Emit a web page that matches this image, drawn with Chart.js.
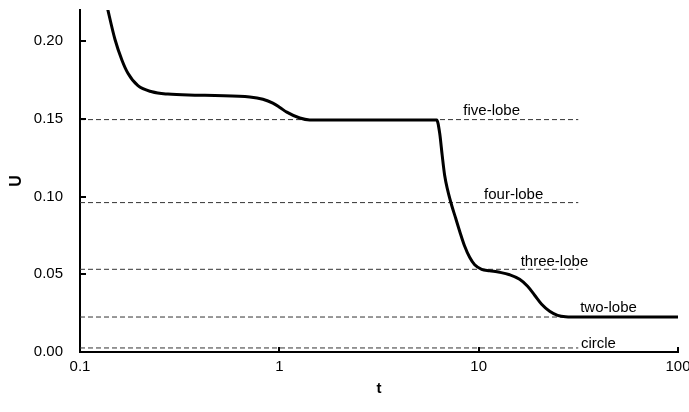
<!DOCTYPE html>
<html><head><meta charset="utf-8">
<script src="https://cdn.jsdelivr.net/npm/chart.js@4"></script>
<style>html,body{margin:0;padding:0;background:#fff}</style>
</head><body>
<canvas id="c" width="689" height="412"></canvas>
<script>
// ---- data ----
const curveT = [0.136, 0.1497, 0.1624, 0.174, 0.1953, 0.2296, 0.276, 0.377, 0.475, 0.711, 0.827, 0.928, 1.006, 1.09, 1.267, 1.42, 1.8, 6.16,
  6.375, 6.56, 6.75, 6.99, 7.32, 7.67, 8.03, 8.51, 9.01, 9.55, 10.35, 11.35, 12.74, 14.30, 16.05, 17.60, 19.09, 20.70, 22.70, 24.89, 27.29, 32.08, 100];
const curveU = [0.2235, 0.2012, 0.1877, 0.1793, 0.1713, 0.1674, 0.1659, 0.1652, 0.1650, 0.1641, 0.1626, 0.1601, 0.1573, 0.1543, 0.1505, 0.1493, 0.1492, 0.1492,
  0.1407, 0.1266, 0.1137, 0.1041, 0.0944, 0.0860, 0.0777, 0.0680, 0.0609, 0.0561, 0.0532, 0.0523, 0.0513, 0.0497, 0.0468, 0.0423, 0.0365, 0.0307, 0.0262, 0.0236, 0.0227, 0.0225, 0.0225];
const levelNames = ['five-lobe', 'four-lobe', 'three-lobe', 'two-lobe', 'circle'];
const levelU = [0.1495, 0.0961, 0.0532, 0.0225, 0.0026];
const levelRangeT = [0.1, 31.6];
const labelT = [11.62, 14.98, 24.0, 44.8, 39.9];
const labelU = [0.1551, 0.1008, 0.0577, 0.0284, 0.0053];
const xTicks = [0.1, 1, 10, 100];
const yTicks = [0, 0.05, 0.10, 0.15, 0.20];
const xTitle = 't', yTitle = 'U';

// ---- chart ----
const FONT = '"Liberation Sans", Arial, Helvetica, sans-serif';
const datasets = [{
  data: curveT.map((t, i) => ({x: t, y: curveU[i]})),
  borderColor: '#000', borderWidth: 3, pointRadius: 0,
  cubicInterpolationMode: 'monotone', fill: false
}];
levelU.forEach(u => datasets.push({
  data: levelRangeT.map(t => ({x: t, y: u})),
  borderColor: '#333', borderWidth: 1, borderDash: [5, 3], pointRadius: 0, fill: false
}));

const decor = {
  id: 'decor',
  afterDatasetsDraw(chart) {
    const {ctx, scales: {x, y}} = chart;
    ctx.save();
    ctx.fillStyle = '#000';
    ctx.font = '15px ' + FONT;
    ctx.textAlign = 'center';
    ctx.textBaseline = 'middle';
    levelNames.forEach((n, i) => ctx.fillText(n, x.getPixelForValue(labelT[i]), y.getPixelForValue(labelU[i])));
    ctx.restore();
  },
  afterDraw(chart) {
    const {ctx, chartArea, scales: {x, y}} = chart;
    ctx.save();
    ctx.strokeStyle = '#000';
    ctx.lineWidth = 2;
    ctx.beginPath();
    xTicks.forEach(v => {
      if (v === xTicks[0]) return;
      const px = Math.round(x.getPixelForValue(v));
      ctx.moveTo(px, chartArea.bottom); ctx.lineTo(px, chartArea.bottom - 5);
    });
    yTicks.forEach(v => {
      if (v === yTicks[0]) return;
      const py = Math.round(y.getPixelForValue(v));
      ctx.moveTo(chartArea.left, py); ctx.lineTo(chartArea.left + 6, py);
    });
    ctx.stroke();
    ctx.restore();
  }
};

new Chart(document.getElementById('c'), {
  type: 'line',
  data: {datasets},
  options: {
    responsive: false, devicePixelRatio: 1, animation: false,
    layout: {padding: {top: 10, right: 11, left: 0, bottom: 0}},
    plugins: {legend: {display: false}, tooltip: {enabled: false}},
    scales: {
      x: {
        type: 'logarithmic', min: 0.1, max: 100,
        grid: {display: false, drawTicks: false},
        border: {display: true, color: '#000', width: 2},
        afterBuildTicks: s => { s.ticks = xTicks.map(v => ({value: v})); },
        afterFit: s => { s.height = 60; s.paddingLeft = 0; s.paddingRight = 0; },
        ticks: {color: '#000', font: {family: FONT, size: 15}, padding: 6, maxRotation: 0, autoSkip: false,
          callback: v => String(v)},
        title: {display: true, text: xTitle, color: '#000', font: {family: FONT, size: 15, weight: 'bold'}, padding: {top: 0, bottom: 14}}
      },
      y: {
        type: 'linear', min: 0, max: 0.22,
        grid: {display: false, drawTicks: false},
        border: {display: true, color: '#000', width: 2},
        afterBuildTicks: s => { s.ticks = yTicks.map(v => ({value: v})); },
        afterFit: s => { s.width = 80; s.paddingTop = 0; s.paddingBottom = 0; },
        ticks: {color: '#000', font: {family: FONT, size: 15}, padding: 17, callback: v => Number(v).toFixed(2)},
        title: {display: true, text: yTitle, color: '#000', font: {family: FONT, size: 16, weight: 'bold'}, padding: {top: 7, bottom: 0}}
      }
    }
  },
  plugins: [decor]
});
</script>
</body></html>
